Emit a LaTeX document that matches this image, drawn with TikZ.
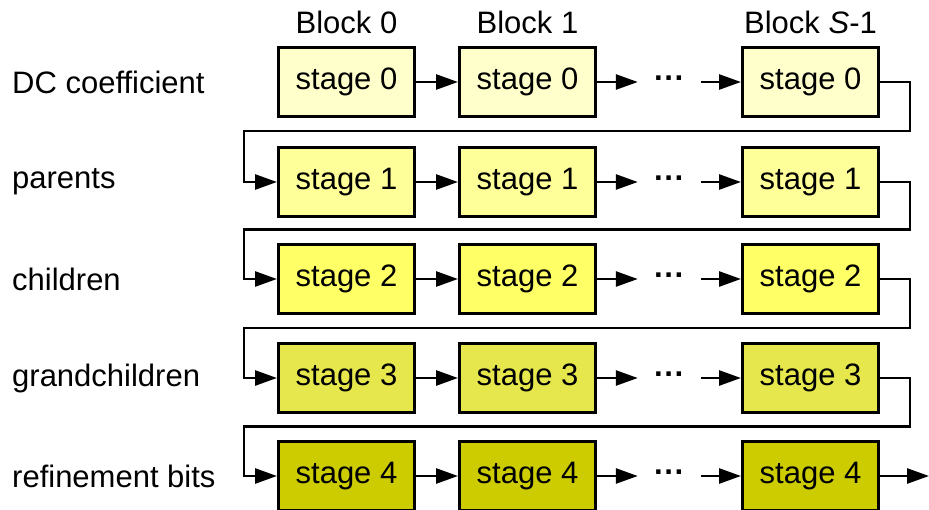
\documentclass[tikz,border=0pt]{standalone}
\usepackage{fontspec}
\setmainfont{Liberation Sans}
\usetikzlibrary{arrows.meta}
\definecolor{c0}{HTML}{FFFFCC}
\definecolor{c1}{HTML}{FFFF99}
\definecolor{c2}{HTML}{FFFF66}
\definecolor{c3}{HTML}{E6E64D}
\definecolor{c4}{HTML}{CCCC00}
\begin{document}
\begin{tikzpicture}[x=1pt,y=-1pt,
  every node/.style={font=\fontsize{31}{37}\selectfont},
  stagebox/.style={draw=black,line width=3pt,minimum width=136pt,minimum height=69pt,inner sep=0pt},
  dotsnode/.style={minimum width=63pt,inner sep=0pt,font=\fontsize{31}{37}\selectfont\bfseries},
  rowlabel/.style={anchor=west,inner sep=0pt},
  conn/.style={line width=2.6pt,-{Triangle[length=22pt,width=15pt]}},
  loopline/.style={line width=2.6pt,-{Triangle[length=22pt,width=15pt]}}
]
\useasboundingbox (0,0) rectangle (929,509);
% headers
\node (h0) at (346.5,22) {Block 0};
\node (h1) at (527.5,22) {Block 1};
\node (h2) at (810.5,22) {Block \textit{S}-1};
% rows
\foreach \r/\y/\lab in {0/82/DC coefficient,1/182/parents,2/279/children,3/378/grandchildren,4/476/refinement bits}{
  \node[rowlabel] (l\r) at (12,\y) {\lab};
  \node[stagebox,fill=c\r] (b\r0) at (346.5,\y) {stage \r};
  \node[stagebox,fill=c\r] (b\r1) at (527.5,\y) {stage \r};
  \node[dotsnode] (d\r) at (669.5,\y) {···};
  \node[stagebox,fill=c\r] (b\r2) at (810.5,\y) {stage \r};
  \draw[conn] (b\r0.east) -- (b\r1.west);
  \draw[conn] (b\r1.east) -- (d\r.west);
  \draw[conn] (d\r.east) -- (b\r2.west);
}
% loops
\foreach \r/\n/\ly in {0/1/131,1/2/229.5,2/3/328,3/4/426.5}{
  \draw[loopline] (b\r2.east) -- (910,\ly |- b\r2.east) -- (910,\ly) -- (244,\ly) -- (244,\ly |- b\n0.west) -- (b\n0.west);
}
\coordinate (out) at (929,476);
\draw[conn] (b42.east) -- (out);
\end{tikzpicture}
\end{document}
